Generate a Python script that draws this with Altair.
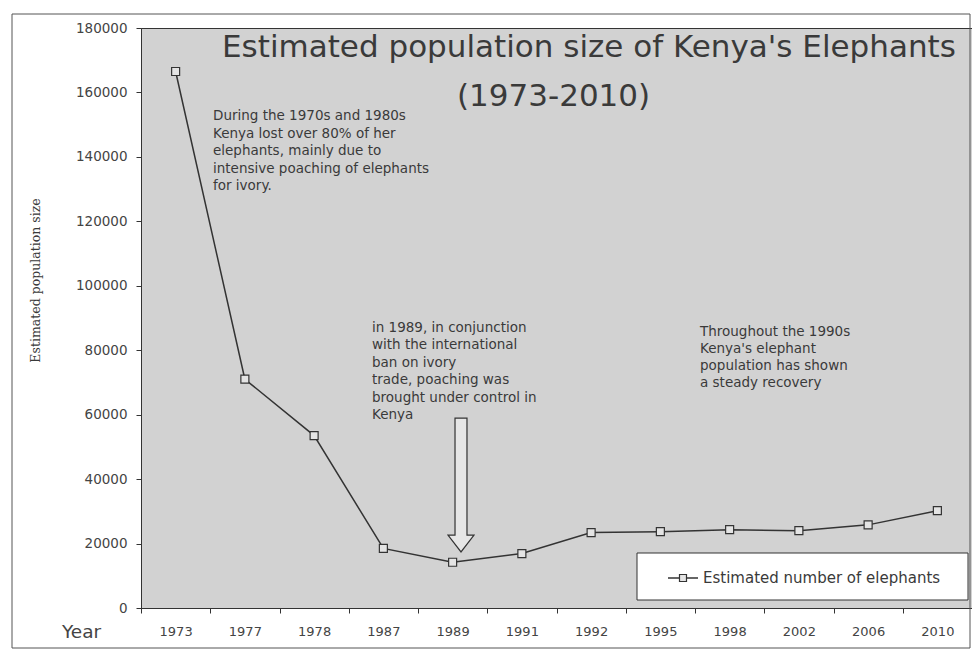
import altair as alt
import pandas as pd

# ---- data ----
years = ["1973", "1977", "1978", "1987", "1989", "1991", "1992", "1995", "1998", "2002", "2006", "2010"]
elephants = [166500, 71000, 53500, 18500, 14200, 16900, 23400, 23700, 24300, 24000, 25800, 30200]
y_ticks = [0, 20000, 40000, 60000, 80000, 100000, 120000, 140000, 160000, 180000]

title_line1 = "Estimated population size of Kenya's Elephants"
title_line2 = "(1973-2010)"
note_decline = ["During the 1970s and 1980s", "Kenya lost over 80% of her", "elephants, mainly due to",
                "intensive poaching of elephants", "for ivory."]
note_ban = ["in 1989, in conjunction", "with the international", "ban on ivory",
            "trade, poaching was", "brought under control in", "Kenya"]
note_recovery = ["Throughout the 1990s", "Kenya's elephant", "population has shown", "a steady recovery"]
legend_label = "Estimated number of elephants"
x_axis_word = "Year"
y_title = "Estimated population size"

df = pd.DataFrame({"Year": years, "Elephants": elephants})
one = pd.DataFrame({"k": [0]})

SANS = "DejaVu Sans"
TXT = "#3a3a3a"
LINE = "#333333"

x_enc = alt.X(
    "Year:N", sort=years, bandPosition=0.5,
    scale=alt.Scale(type="band", paddingInner=0, paddingOuter=0),
    axis=alt.Axis(title=None, labelAngle=0, labelFont=SANS, labelFontSize=13, labelColor="#444",
                  labelPadding=12, tickSize=5, tickBand="extent", tickColor=LINE,
                  domainColor=LINE, grid=False),
)
y_enc = alt.Y(
    "Elephants:Q",
    scale=alt.Scale(domain=[0, 180000], nice=False),
    axis=alt.Axis(values=y_ticks, format="d", labelFont=SANS, labelFontSize=13.5, labelColor="#444",
                  labelPadding=9, tickSize=5, tickColor=LINE, domainColor=LINE, grid=False,
                  title=y_title, titleFont="DejaVu Serif", titleFontSize=12.5, titleFontWeight="normal",
                  titleColor=TXT, titleX=-106, titleY=252, titleAngle=270,
                  titleAlign="center", titleBaseline="middle"),
)

base = alt.Chart(df)
line = base.mark_line(color=LINE, strokeWidth=1.5).encode(x=x_enc, y=y_enc)
pts = base.mark_point(shape="square", size=64, filled=True, fill="#e4e4e4",
                      stroke=LINE, strokeWidth=1.2, opacity=1).encode(x=x_enc, y=y_enc)

deco = alt.Chart(one)
frame = deco.mark_rect(fillOpacity=0, stroke="#555", strokeWidth=1).encode(
    x=alt.value(-129), x2=alt.value(829), y=alt.value(-14), y2=alt.value(620))

t1 = deco.mark_text(align="left", baseline="middle", font=SANS, fontSize=31, color=TXT).encode(
    x=alt.value(81), y=alt.value(20), text=alt.value(title_line1))
t2 = deco.mark_text(align="left", baseline="middle", font=SANS, fontSize=31, color=TXT).encode(
    x=alt.value(316), y=alt.value(69), text=alt.value(title_line2))

def note(lines, x, y, lh):
    return deco.mark_text(align="left", baseline="top", lineBreak="\n", lineHeight=lh,
                          font=SANS, fontSize=13.5, color=TXT).encode(
        x=alt.value(x), y=alt.value(y), text=alt.value("\n".join(lines)))

n1 = note(note_decline, 72, 81, 17.5)
n2 = note(note_ban, 231, 293, 17.4)
n3 = note(note_recovery, 559, 297, 17)

arrow_path = "M-0.46,-5.15 L0.46,-5.15 L0.46,3.85 L1,3.85 L0,5.15 L-1,3.85 L-0.46,3.85 Z"
arrow = deco.mark_point(shape=arrow_path, size=676, filled=True, fill="#e6e6e6",
                        stroke=LINE, strokeWidth=1.2, opacity=1).encode(
    x=alt.value(320), y=alt.value(457))

year_word = deco.mark_text(align="left", baseline="middle", font=SANS, fontSize=18.5, color="#444").encode(
    x=alt.value(-79), y=alt.value(604), text=alt.value(x_axis_word))

leg_box = deco.mark_rect(fill="white", stroke=LINE, strokeWidth=1).encode(
    x=alt.value(496), x2=alt.value(827), y=alt.value(525), y2=alt.value(572))
leg_line = deco.mark_rule(color=LINE, strokeWidth=1.5).encode(
    x=alt.value(527), x2=alt.value(557), y=alt.value(550))
leg_pt = deco.mark_point(shape="square", size=49, filled=True, fill="#e4e4e4",
                         stroke=LINE, strokeWidth=1.2, opacity=1).encode(
    x=alt.value(542), y=alt.value(550))
leg_txt = deco.mark_text(align="left", baseline="middle", font=SANS, fontSize=15, color=TXT).encode(
    x=alt.value(562), y=alt.value(550), text=alt.value(legend_label))

chart = alt.layer(
    frame, line, pts, t1, t2, n1, n2, n3, arrow, year_word, leg_box, leg_line, leg_pt, leg_txt
).properties(
    width=831, height=580,
    autosize=alt.AutoSizeParams(type="none"),
    padding={"left": 133, "top": 20, "right": 0, "bottom": 49},
    background="white",
).configure_view(
    fill="#d2d2d2", stroke=LINE, strokeWidth=1
)

chart.save("out.html", embed_options={"renderer": "svg", "actions": False})
